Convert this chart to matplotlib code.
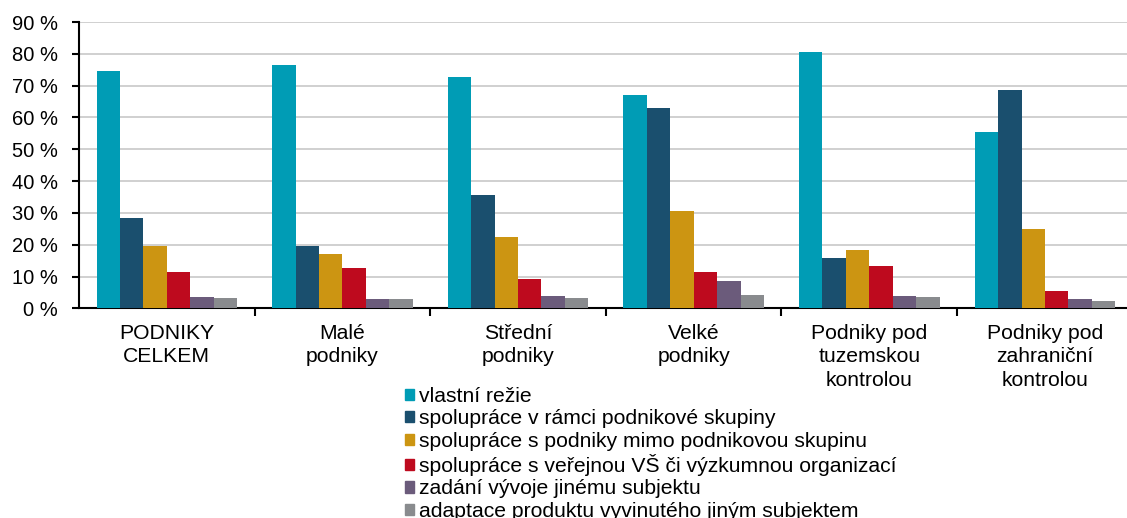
import numpy as np
import matplotlib.pyplot as plt
from matplotlib.patches import Patch

plt.rcParams['font.family'] = ['Liberation Sans', 'DejaVu Sans']

# skupiny podniku
skupiny = ["PODNIKY\nCELKEM", "Malé\npodniky", "Střední\npodniky", "Velké\npodniky",
           "Podniky pod\ntuzemskou\nkontrolou", "Podniky pod\nzahraniční\nkontrolou"]

# hodnoty v %
vlastni = [74.6, 76.5, 72.7, 67.2, 80.5, 55.3]
skupina = [28.3, 19.6, 35.5, 63.1, 15.8, 68.6]
mimo = [19.7, 17.0, 22.3, 30.5, 18.2, 24.9]
vs = [11.4, 12.6, 9.2, 11.4, 13.3, 5.5]
zadani = [3.65, 2.8, 3.9, 8.6, 3.9, 2.9]
adaptace = [3.1, 2.8, 3.3, 4.2, 3.5, 2.3]

nazvy = ["vlastní režie",
         "spolupráce v rámci podnikové skupiny",
         "spolupráce s podniky mimo podnikovou skupinu",
         "spolupráce s veřejnou VŠ či výzkumnou organizací",
         "zadání vývoje jinému subjektu",
         "adaptace produktu vyvinutého jiným subjektem"]
barvy = ['#009cb5', '#1a4f6e', '#cc9512', '#be0a1e', '#6b5b7b', '#898b8e']

serie = [vlastni, skupina, mimo, vs, zadani, adaptace]

fig = plt.figure(figsize=(11.27, 5.18), dpi=100)
ax = fig.add_axes([0.0701, 0.4048, 0.935, 0.5527])

x = np.arange(len(skupiny))
w = 0.8 / len(serie)
for j, s in enumerate(serie):
    ax.bar(x + (j - 2.5) * w, s, width=w, color=barvy[j], zorder=3)

ax.set_xlim(-0.5, 5.5)
ax.set_ylim(0, 90)
ax.set_yticks(range(0, 91, 10))
ax.set_yticklabels([f"{v} %" for v in range(0, 91, 10)], fontsize=14.5)
ax.yaxis.grid(True, color='#c8c8c8', linewidth=1.2, zorder=0)

ax.set_xticks(np.arange(0.5, 5.5, 1))
ax.set_xticklabels([])
ax.set_xticks(x, minor=True)
ax.set_xticklabels(skupiny, minor=True, fontsize=15.2, linespacing=1.3)
ax.tick_params(axis='x', which='minor', length=0, pad=11)
ax.tick_params(axis='x', which='major', length=6, width=1.5, direction='out')
ax.tick_params(axis='y', length=5, width=1.5, pad=10)

for sp in ['top', 'right']:
    ax.spines[sp].set_visible(False)
for sp in ['left', 'bottom']:
    ax.spines[sp].set_linewidth(1.5)

handles = [Patch(color=c) for c in barvy]
fig.legend(handles, nazvy, loc='upper left', bbox_to_anchor=(0.359, 0.253),
           frameon=False, fontsize=15.2, handlelength=0.45, handleheight=0.45,
           handletextpad=0.25, labelspacing=0.16, borderpad=0, borderaxespad=0)

fig.savefig('out.png', dpi=100)
